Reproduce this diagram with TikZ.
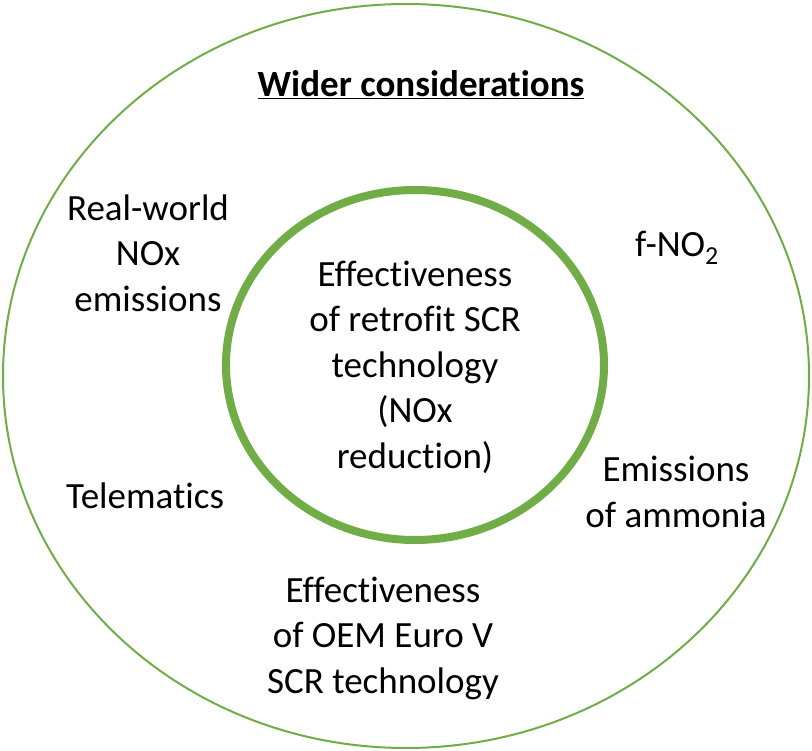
\documentclass[tikz,border=0pt]{standalone}
\usepackage{fontspec}
\setmainfont[Ligatures={TeX,NoCommon}]{Carlito}
\usepackage{tikz}
\usetikzlibrary{positioning}
\definecolor{ringgreen}{RGB}{112, 173, 71}

\begin{document}
\begin{tikzpicture}[x=1pt, y=-1pt,
    every node/.style={align=center, inner sep=0pt, font=\fontsize{37}{45.5}\selectfont}]
        \useasboundingbox (0, 0) rectangle (812, 751);

        % Outer ring
        \draw[ringgreen, line width=2pt] (406, 376) ellipse [x radius=403, y radius=372];
        \node[font=\fontsize{37}{45.5}\selectfont\bfseries] (wider) at (421, 85) {\underline{Wider considerations}};

        % Inner ring
        \draw[ringgreen, line width=8pt] (415, 365) ellipse [x radius=189, y radius=175];
        \node (retrofit) at (415, 367) {Effectiveness\\of retrofit SCR\\technology\\(NOx\\reduction)};

        % Surrounding topics
        \node (realworld) at (148, 253) {Real-world\\NOx\\emissions};
        \node (fno2) at (677, 248) {f-NO\textsubscript{2}};
        \node (telematics) at (145, 496) {Telematics};
        \node (ammonia) at (676, 492) {Emissions\\of ammonia};
        \node (oem) at (383, 638) {Effectiveness\\of OEM Euro V\\SCR technology};

\end{tikzpicture}
\end{document}
